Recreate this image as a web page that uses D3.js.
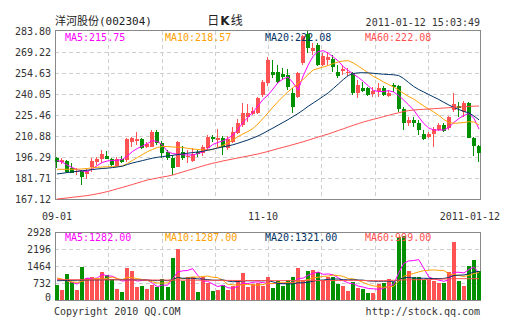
<!DOCTYPE html>
<html><head><meta charset="utf-8">
<script src="https://cdn.jsdelivr.net/npm/d3@7/dist/d3.min.js"></script>
<style>
html,body{margin:0;padding:0;background:#fff;}
svg{display:block;}
text{font-family:"DejaVu Sans Mono",monospace;font-size:10px;}
</style></head><body>
<svg id="chart" width="505" height="330"></svg>
<script>
// ---- data ----
const priceTicks = [283.80, 269.22, 254.63, 240.05, 225.46, 210.88, 196.29, 181.71, 167.12];
const volumeTicks = [0, 732, 1464, 2196, 2928];
const xTickIndex = [0, 41, 84];
const xTickText = ["09-01", "11-10", "2011-01-12"];

const open = [195.80,192.82,193.51,188.44,185.66,186.57,184.28,189.55,193.02,194.69,
197.19,194.69,190.04,194.90,194.21,206.50,207.40,208.79,203.44,203.44,
213.86,206.22,199.97,195.80,189.55,199.97,196.29,193.72,199.97,198.86,
202.33,210.38,208.10,209.28,202.33,206.92,213.17,218.52,224.28,225.95,
226.64,239.35,247.69,255.53,255.53,253.73,253.24,240.53,238.17,261.36,
282.00,270.11,274.07,260.18,263.66,264.14,255.11,255.81,254.42,254.42,
240.53,244.41,244.01,240.05,242.33,244.01,238.66,246.29,245.60,229.49,
220.11,221.99,220.11,212.26,210.38,212.05,215.04,218.52,216.23,228.94,
231.71,227.83,233.59,209.69,203.93];
const high = [196.50,195.60,194.55,191.91,188.44,187.26,188.44,195.39,196.50,201.15,
200.46,195.80,196.50,197.19,209.28,210.38,213.86,209.28,206.92,215.04,
215.04,207.40,201.15,197.68,207.40,204.13,201.15,202.33,201.15,204.62,
211.57,211.57,215.95,210.88,210.88,217.34,222.47,233.59,233.10,231.23,
238.17,249.77,265.74,263.66,260.18,257.89,257.20,244.01,255.53,281.02,
283.80,275.25,275.25,268.31,269.42,267.13,260.18,260.18,257.89,255.53,
249.77,248.58,245.09,244.90,247.48,245.60,242.82,247.48,246.29,231.23,
224.28,224.28,221.99,215.04,213.86,217.34,219.70,219.70,224.77,240.53,
234.70,235.19,234.70,210.38,204.62];
const low = [188.65,191.43,185.18,184.97,183.79,176.66,181.02,186.08,190.73,191.91,
194.69,190.04,189.13,191.91,193.02,203.44,204.62,201.64,202.33,203.02,
204.62,195.59,194.21,183.79,189.13,194.21,192.33,193.02,196.50,196.98,
201.15,206.92,202.33,197.68,201.15,205.81,212.26,217.34,220.81,225.46,
226.16,238.17,245.60,250.95,247.48,249.77,242.82,226.64,237.06,260.50,
268.31,267.13,259.49,259.49,260.18,255.53,250.95,253.24,252.55,239.35,
237.06,241.64,238.66,237.97,238.17,238.66,238.17,241.64,227.83,215.04,
217.82,217.34,211.57,208.10,209.28,203.44,214.56,213.86,215.04,227.83,
224.28,224.28,209.28,196.98,193.02];
const close = [192.61,194.21,186.08,185.38,186.57,182.61,186.57,193.72,194.90,198.16,
194.90,190.73,194.69,192.61,208.79,209.69,208.79,202.75,205.11,213.86,
205.81,198.86,195.39,188.44,206.92,195.39,197.33,198.37,198.37,203.44,
210.38,208.58,209.28,203.44,208.58,213.86,219.70,226.64,227.06,228.24,
237.06,248.17,263.66,253.24,248.58,252.06,244.69,231.23,254.42,280.54,
271.78,271.78,260.18,266.43,265.95,258.99,252.75,257.20,255.53,240.53,
246.29,242.33,239.35,242.13,244.01,239.35,240.95,244.69,229.49,219.70,
221.99,219.70,215.04,208.58,212.26,215.74,218.52,214.56,224.28,232.89,
230.12,234.00,209.69,203.93,199.28];
const volume = [655,437,1136,756,437,1442,948,1005,904,1224,
1092,904,481,363,1398,1267,568,612,481,655,
568,904,568,1792,2185,830,975,975,363,975,
729,393,437,655,437,612,801,1151,539,700,
729,612,975,510,801,612,874,975,1369,874,
1238,1311,1224,874,975,1005,685,612,393,787,
510,466,320,320,685,714,904,758,2723,2766,
1267,975,975,874,874,830,729,714,1194,2504,
830,583,1456,1704,1267];

const ma5 = [193.86,192.82,190.74,189.00,187.61,186.57,186.22,187.96,190.39,192.47,
193.52,193.86,194.00,194.56,196.99,200.11,202.20,203.93,205.67,207.61,
207.06,204.63,199.97,198.72,198.17,197.89,197.68,197.68,198.59,199.77,
202.20,204.97,206.36,207.41,209.14,211.57,215.39,220.25,223.73,227.55,
231.71,236.23,239.35,243.52,248.03,250.46,251.85,247.69,242.82,252.55,
260.19,266.44,269.56,270.12,268.31,265.74,262.97,259.01,256.37,253.94,
251.51,248.73,245.60,242.48,241.78,241.78,242.34,241.44,239.01,235.88,
232.41,228.93,224.07,219.56,216.43,215.04,215.04,215.04,216.78,220.25,
223.03,225.12,226.50,223.17,215.75];
const ma10 = [187.75,187.75,187.75,187.75,187.82,187.96,188.31,188.79,189.14,189.35,
189.49,189.56,189.70,190.04,191.78,193.86,195.95,198.03,199.97,201.50,
202.89,203.59,203.59,203.24,203.10,202.89,202.33,201.85,201.50,201.15,
201.15,201.50,202.89,204.42,206.02,208.10,210.39,212.27,214.00,216.09,
219.21,223.03,226.85,231.02,234.84,238.31,241.64,244.56,247.69,250.12,
253.59,256.71,257.76,258.80,259.84,261.23,262.27,262.97,263.17,261.58,
259.28,257.06,254.63,252.20,250.46,248.38,246.64,244.91,242.82,240.39,
238.31,236.57,234.14,231.71,229.63,227.55,225.12,222.34,220.25,219.70,
219.91,220.25,220.81,220.60,218.57];
const ma20 = [184.49,184.97,185.46,185.88,186.29,186.71,187.13,187.54,187.96,188.31,
188.52,188.93,189.35,189.90,191.08,192.13,192.96,193.79,194.63,195.46,
196.09,196.57,196.99,197.40,197.96,198.52,198.93,199.35,199.77,200.25,
200.95,201.71,202.54,203.24,203.93,204.77,205.81,206.99,208.10,209.49,
210.88,212.61,214.56,216.43,218.38,220.32,222.27,224.42,226.50,228.93,
231.50,233.80,236.09,238.45,240.88,243.87,246.99,250.12,252.90,254.28,
254.77,254.84,254.70,254.42,254.08,253.80,253.59,253.38,252.90,250.81,
248.03,245.26,243.17,241.44,239.70,237.96,236.23,234.28,232.41,230.67,
229.28,227.89,226.85,224.77,222.08];
const ma60 = [167.12,167.47,167.82,168.30,168.65,169.07,169.49,170.04,170.74,171.43,
172.26,173.17,174.21,175.18,176.15,177.19,178.24,179.28,180.32,181.01,
181.71,182.40,182.96,183.79,184.83,185.88,186.92,187.96,189.00,190.04,
191.08,191.92,192.68,193.52,194.21,194.90,195.60,196.29,196.99,197.68,
198.38,199.28,200.11,201.15,202.13,203.03,203.93,204.91,205.88,206.85,
207.96,209.07,210.18,211.23,212.27,213.45,214.70,215.88,217.13,218.31,
219.49,220.60,221.57,222.48,223.38,224.35,225.25,226.16,226.99,227.82,
228.52,228.93,229.21,229.42,229.63,229.84,230.05,230.32,230.53,230.74,
231.02,231.23,231.44,231.57,231.71];

const vma5 = [904,870,830,760,684,842,944,918,947,1105,
1035,1026,921,813,848,883,815,842,865,717,
577,644,635,897,1203,1256,1270,1351,1066,824,
803,687,579,638,530,507,588,731,708,761,
784,746,711,705,725,702,754,754,926,941,
1066,1153,1203,1104,1124,1078,953,830,734,696,
597,554,495,481,460,501,589,676,1157,1573,
1684,1698,1741,1371,993,906,856,804,868,1194,
1194,1165,1313,1415,1168];
const vma10 = [948,900,830,780,758,800,860,900,930,894,
938,985,919,880,976,959,921,881,839,782,
730,730,738,881,960,916,957,993,982,1014,
1030,979,965,852,677,655,638,655,673,645,
645,667,721,707,743,743,750,733,816,833,
884,954,979,1015,1033,1072,1053,1017,919,910,
838,753,663,607,578,549,571,586,819,1017,
1092,1143,1209,1264,1283,1295,1277,1273,1120,1094,
1050,1011,1059,1142,1181];
const vma20 = [830,835,840,845,850,855,860,863,866,869,
872,874,874,873,872,870,868,865,862,838,
834,857,829,881,968,937,939,937,910,898,
880,854,852,867,818,786,797,824,827,829,
838,823,843,779,710,699,694,694,744,739,
765,811,850,861,888,907,902,875,867,872,
861,854,821,811,805,811,812,801,869,964,
965,948,936,936,931,922,924,929,969,1055,
1071,1077,1134,1203,1232];
const vma60 = [875,875,874,874,873,873,872,872,871,871,
870,869,868,867,866,865,864,863,862,861,
860,859,858,857,856,855,854,853,852,851,
850,848,847,845,844,842,841,839,838,836,
835,835,835,834,834,834,835,835,835,835,
835,836,837,838,839,840,841,843,844,846,
843,840,836,832,828,833,840,848,857,867,
870,872,874,876,879,887,895,903,911,919,
918,918,917,917,916];

const priceLegend = ["MA5:215.75", "MA10:218.57", "MA20:222.08", "MA60:222.08"];
const volumeLegend = ["MA5:1282.00", "MA10:1287.00", "MA20:1321.00", "MA60:999.00"];

// ---- styles ----
const UP = "#ff5252", DOWN = "#009000";
const maColors = ["#ff00ff", "#ffa000", "#003366", "#ff5050"];
const GRID = "#cfcfcf", FRAME = "#888", TXT = "#333";

// ---- layout ----
const svg = d3.select("#chart");
const W = 505;
const L = 55, R = 481, T = 31, B = 199, VT = 232, VB = 300;

const n = open.length;
const x = d3.scaleBand().domain(d3.range(n)).range([L, R]).paddingInner(0.2).paddingOuter(0);
const bw = 4;
const cxOf = i => Math.round(x(i));
const midOf = i => x(i) + x.bandwidth() / 2;

const y = d3.scaleLinear().domain([priceTicks[priceTicks.length - 1], priceTicks[0]]).range([B, T]);
const yv = d3.scaleLinear().domain([0, volumeTicks[volumeTicks.length - 1]]).range([VB, VT]);
const gx = d3.scaleLinear().domain([0, 8]).range([L, R]);

// grids
function vGrid(y0, y1) {
  svg.append("g").selectAll("line").data(d3.range(1, 8)).join("line")
    .attr("x1", d => Math.round(gx(d)) + 0.5).attr("x2", d => Math.round(gx(d)) + 0.5)
    .attr("y1", y0).attr("y2", y1)
    .attr("stroke", GRID).attr("stroke-dasharray", "4,3");
}
vGrid(T, B);
vGrid(VT, VB);
svg.append("g").selectAll("line").data(priceTicks.slice(1, -1)).join("line")
  .attr("x1", L).attr("x2", R)
  .attr("y1", d => Math.round(y(d)) + 0.5).attr("y2", d => Math.round(y(d)) + 0.5)
  .attr("stroke", GRID).attr("stroke-dasharray", "4,3");
svg.append("g").selectAll("line").data(volumeTicks.slice(1, -1)).join("line")
  .attr("x1", L).attr("x2", R)
  .attr("y1", d => Math.round(yv(d)) + 0.5).attr("y2", d => Math.round(yv(d)) + 0.5)
  .attr("stroke", GRID).attr("stroke-dasharray", "4,3");

// frames
svg.append("rect").attr("x", L + 0.5).attr("y", T - 0.5).attr("width", R - L - 1).attr("height", B - T + 1)
  .attr("fill", "none").attr("stroke", FRAME);
svg.append("rect").attr("x", L + 0.5).attr("y", VT + 0.5).attr("width", R - L - 1).attr("height", VB - VT)
  .attr("fill", "none").attr("stroke", FRAME);

// candles
const idx = d3.range(n);
const isUp = i => close[i] >= open[i];
const cg = svg.append("g").attr("shape-rendering", "crispEdges");
cg.selectAll("rect.wick").data(idx).join("rect").attr("class", "wick")
  .attr("x", i => cxOf(i) + 1)
  .attr("y", i => Math.round(y(high[i])))
  .attr("width", 1)
  .attr("height", i => Math.max(1, Math.round(y(low[i])) - Math.round(y(high[i]))))
  .attr("fill", i => isUp(i) ? UP : DOWN);
cg.selectAll("rect.body").data(idx).join("rect").attr("class", "body")
  .attr("x", i => cxOf(i))
  .attr("y", i => Math.round(y(Math.max(open[i], close[i]))))
  .attr("width", bw)
  .attr("height", i => Math.max(1, Math.round(y(Math.min(open[i], close[i]))) - Math.round(y(Math.max(open[i], close[i])))))
  .attr("fill", i => isUp(i) ? UP : DOWN);

// volume bars
svg.append("g").attr("shape-rendering", "crispEdges")
  .selectAll("rect").data(idx).join("rect")
  .attr("x", i => cxOf(i))
  .attr("y", i => Math.round(yv(volume[i])))
  .attr("width", bw)
  .attr("height", i => VB - Math.round(yv(volume[i])))
  .attr("fill", i => isUp(i) ? UP : DOWN);

// moving average lines
function drawLines(series, ys) {
  series.forEach((s, k) => {
    const line = d3.line().x((d, i) => midOf(i)).y(d => ys(d));
    svg.append("path").datum(s).attr("d", line)
      .attr("fill", "none").attr("stroke", maColors[k]).attr("stroke-width", 1);
  });
}
drawLines([ma5, ma10, ma20, ma60], y);
drawLines([vma5, vma10, vma20, vma60], yv);

// axes labels
const ay = svg.append("g").attr("transform", `translate(${L},0)`).style("color", TXT)
  .call(d3.axisLeft(y).tickValues(priceTicks).tickFormat(d3.format(".2f")).tickSize(0).tickPadding(4));
ay.select(".domain").remove();
const av = svg.append("g").attr("transform", `translate(${L},0)`).style("color", TXT)
  .call(d3.axisLeft(yv).tickValues(volumeTicks).tickFormat(d3.format("d")).tickSize(0).tickPadding(4));
av.select(".domain").remove();
av.selectAll(".tick").filter(d => d === 0).select("text").attr("y", -3);
svg.selectAll(".tick text").attr("font-size", null).attr("font-family", null);

// x labels
svg.append("g").selectAll("text").data(xTickIndex).join("text")
  .attr("x", (d, k) => k === xTickIndex.length - 1 ? W - 5 : midOf(d))
  .attr("y", 220)
  .attr("text-anchor", (d, k) => k === xTickIndex.length - 1 ? "end" : "middle")
  .attr("fill", TXT)
  .text((d, k) => xTickText[k]);

// legends
const legX = [65, 165, 265, 365];
svg.append("g").selectAll("text").data(priceLegend).join("text")
  .attr("x", (d, k) => legX[k]).attr("y", 40.5).attr("fill", (d, k) => maColors[k]).text(d => d);
svg.append("g").selectAll("text").data(volumeLegend).join("text")
  .attr("x", (d, k) => legX[k]).attr("y", 240.5).attr("fill", (d, k) => maColors[k]).text(d => d);

// header
const h = svg.append("text").attr("x", 55).attr("y", 25).attr("fill", "#222");
h.append("tspan").style("font-family", "'Noto Sans CJK SC',sans-serif").style("font-size", "11px").text("洋河股份");
h.append("tspan").style("font-size", "11px").text("(002304)");
const k = svg.append("text").attr("x", 225).attr("y", 25).attr("text-anchor", "middle").attr("fill", "#222")
  .style("font-family", "'Noto Sans CJK SC',sans-serif").style("font-size", "12px");
k.append("tspan").text("日");
k.append("tspan").style("font-weight", "bold").style("font-family", "'DejaVu Sans',sans-serif").attr("dx", 1).text("K");
k.append("tspan").attr("dx", 1).text("线");
svg.append("text").attr("x", 480).attr("y", 26).attr("text-anchor", "end").attr("fill", TXT)
  .text("2011-01-12 15:03:49");

// footer
svg.append("text").attr("x", 54).attr("y", 315).attr("fill", TXT).text("Copyright 2010 QQ.COM");
svg.append("text").attr("x", 480).attr("y", 315).attr("text-anchor", "end").attr("fill", TXT).text("http://stock.qq.com");
</script>
</body></html>
